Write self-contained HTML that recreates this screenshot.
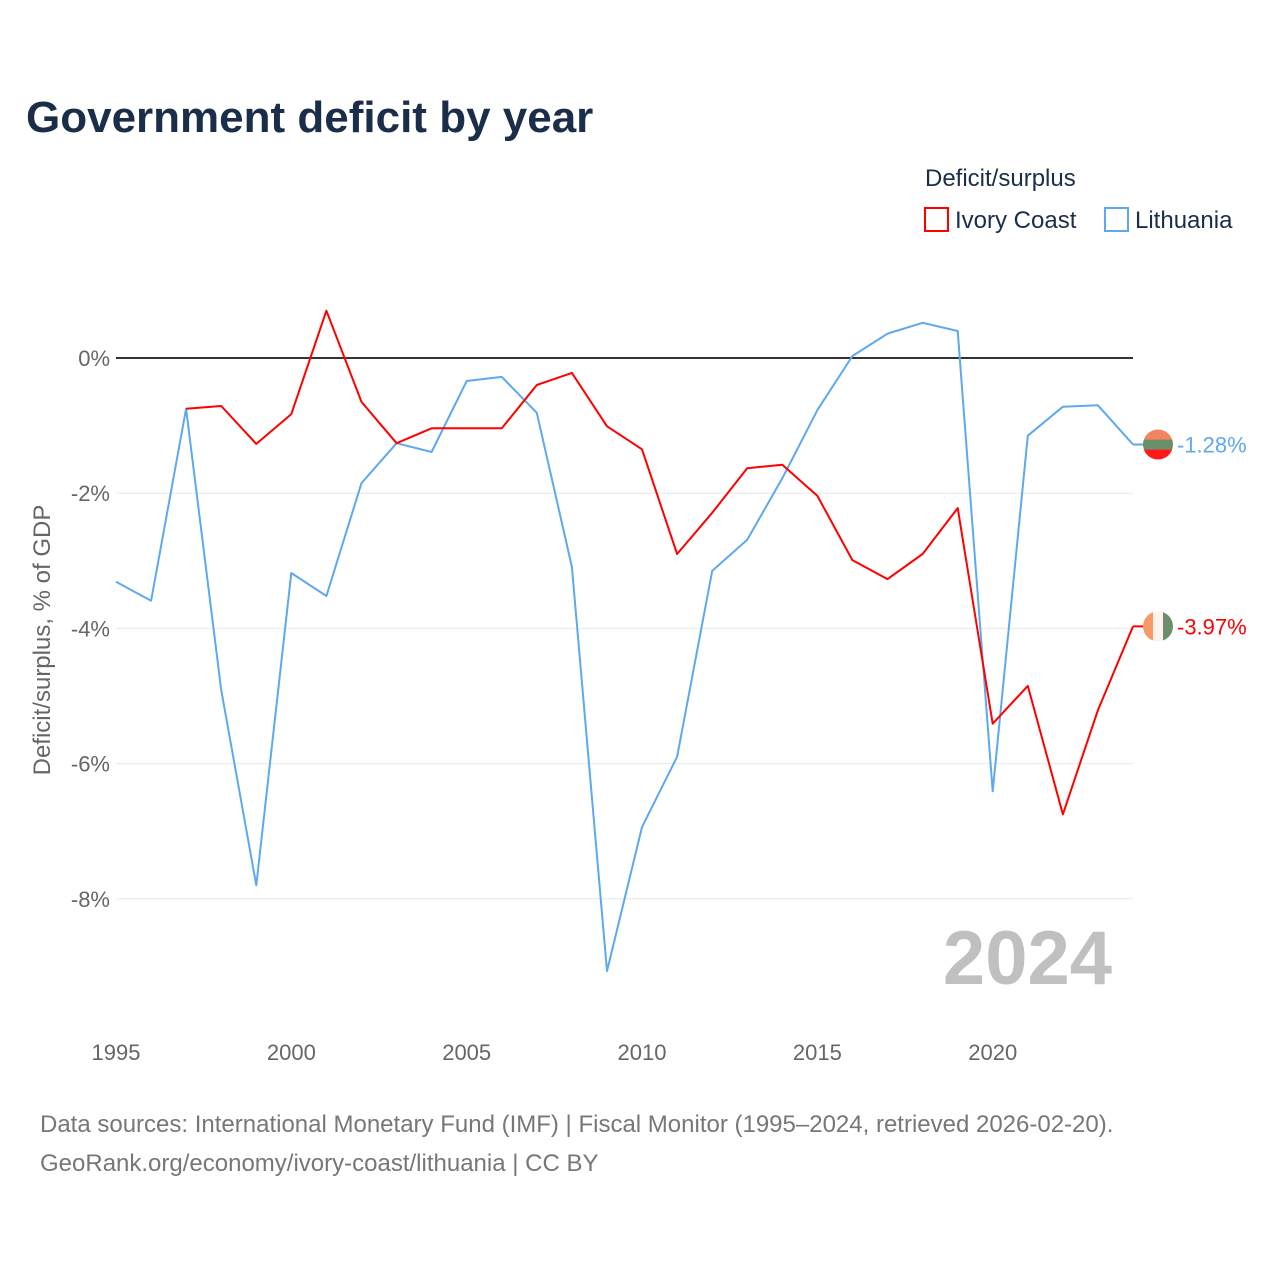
<!DOCTYPE html>
<html><head><meta charset="utf-8"><style>
body{margin:0;background:#fff;font-family:"Liberation Sans",sans-serif}
</style></head><body>
<svg width="1280" height="1280" viewBox="0 0 1280 1280" xmlns="http://www.w3.org/2000/svg">
<rect width="1280" height="1280" fill="#fff"/>
<text x="26" y="132" font-size="44" font-weight="bold" fill="#1a2e4a">Government deficit by year</text>
<text x="925" y="186" font-size="24" fill="#1a2e4a">Deficit/surplus</text>
<g><rect x="925" y="208" width="23" height="23" fill="none" stroke="#ff0000" stroke-width="2"/><text x="955" y="228" font-size="24" fill="#1a2e4a">Ivory Coast</text></g>
<g><rect x="1105" y="208" width="23" height="23" fill="none" stroke="#5ea8ee" stroke-width="2"/><text x="1135" y="228" font-size="24" fill="#1a2e4a">Lithuania</text></g>
<g id="grid"></g>
<g id="axes"></g>
<g id="series"></g>
<text x="1112" y="984" font-size="76" font-weight="bold" fill="#c0c0c0" text-anchor="end">2024</text>
<text transform="translate(50,640) rotate(-90)" font-size="24" fill="#666" text-anchor="middle">Deficit/surplus, % of GDP</text>
<text x="40" y="1132" font-size="24" fill="#777">Data sources: International Monetary Fund (IMF) | Fiscal Monitor (1995–2024, retrieved 2026-02-20).</text>
<text x="40" y="1171" font-size="24" fill="#777">GeoRank.org/economy/ivory-coast/lithuania | CC BY</text>
</svg>
<script>
const years=[1995,1996,1997,1998,1999,2000,2001,2002,2003,2004,2005,2006,2007,2008,2009,2010,2011,2012,2013,2014,2015,2016,2017,2018,2019,2020,2021,2022,2023,2024];
const ivoryCoast=[null,null,-0.75,-0.71,-1.27,-0.83,0.70,-0.65,-1.26,-1.04,-1.04,-1.04,-0.40,-0.22,-1.01,-1.35,-2.90,-2.29,-1.63,-1.58,-2.04,-2.99,-3.27,-2.90,-2.22,-5.41,-4.85,-6.75,-5.21,-3.97];
const lithuania=[-3.31,-3.59,-0.75,-4.91,-7.80,-3.18,-3.52,-1.85,-1.26,-1.39,-0.34,-0.28,-0.81,-3.09,-9.07,-6.94,-5.90,-3.15,-2.69,-1.78,-0.77,0.03,0.36,0.52,0.40,-6.41,-1.15,-0.72,-0.70,-1.28];
const yTicks=[0,-2,-4,-6,-8];
const xTicks=[1995,2000,2005,2010,2015,2020];
const NS="http://www.w3.org/2000/svg";
const X=y=>116+(y-1995)*(1133-116)/29;
const Y=v=>358-v*67.6;
function mk(t,a,p){const e=document.createElementNS(NS,t);for(const k in a)e.setAttribute(k,a[k]);p.appendChild(e);return e;}
const grid=document.getElementById('grid'),axes=document.getElementById('axes'),ser=document.getElementById('series');
yTicks.forEach(v=>{
 const l=mk('line',{x1:116,x2:1133,y1:Y(v),y2:Y(v),stroke:v===0?'#333':'#e8e8e8','stroke-width':v===0?2:1},grid);
 
 
 const t=mk('text',{x:110,y:Y(v)+8,'font-size':22,fill:'#666','text-anchor':'end'},axes);
 t.textContent=v+'%';
 
 
});
xTicks.forEach(y=>{
 const t=mk('text',{x:X(y),y:1060,'font-size':22,fill:'#666','text-anchor':'middle'},axes);
 t.textContent=y;
 
 
});
function line(vals,color,name){
 let d='';vals.forEach((v,i)=>{if(v===null)return;d+=(d?'L':'M')+X(years[i]).toFixed(1)+','+Y(v).toFixed(1);});
 const p=mk('path',{d:d,fill:'none',stroke:color,'stroke-width':2,'stroke-linejoin':'round'},ser);
 
 
}
line(lithuania,'#5ea8ee','lithuania-line');
line(ivoryCoast,'#ff0000','ivory-coast-line');
function endMark(v,color,name,flag){
 const y=Y(v);
 mk('line',{x1:1133,x2:1145,y1:y,y2:y,stroke:color,'stroke-width':2},ser);
 const g=mk('g',{},ser);
 
 
 const cid='c'+name;
 const cp=mk('clipPath',{id:cid},g);mk('circle',{cx:1158,cy:y,r:15},cp);
 const cols=flag.c;
 cols.forEach((c,i)=>{
  if(flag.v) mk('rect',{x:1143+i*10,y:y-15,width:10,height:30,fill:c,'clip-path':'url(#'+cid+')'},g);
  else mk('rect',{x:1143,y:y-15+i*10,width:30,height:10,fill:c,'clip-path':'url(#'+cid+')'},g);
 });
 const t=mk('text',{x:1177,y:y+8,'font-size':22,fill:color},ser);
 t.textContent=v.toFixed(2)+'%';
 
 
}
endMark(lithuania[lithuania.length-1],'#5ea8ee','lithuania',{v:false,c:['#f4845f','#6b8f6b','#ff1a1a']});
endMark(ivoryCoast[ivoryCoast.length-1],'#ff0000','ivory-coast',{v:true,c:['#f79a6a','#fff2ec','#6b8f6b']});
</script>
</body></html>
